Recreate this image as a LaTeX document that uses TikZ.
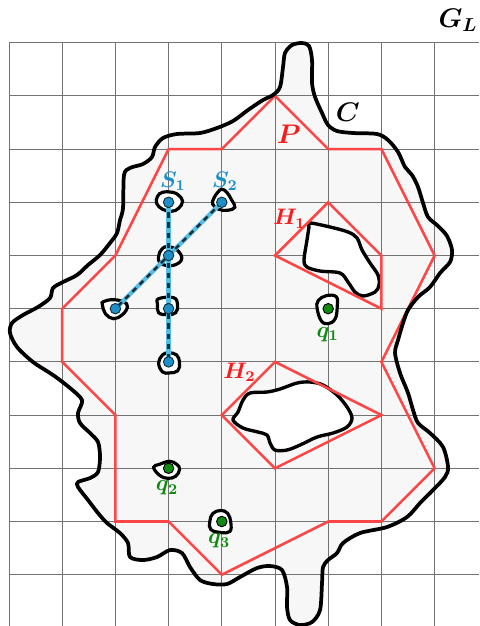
\documentclass[tikz,border=0pt]{standalone}
\usepackage{amsmath,amssymb}
\usepackage{bm}
\usetikzlibrary{positioning,calc}
\usepackage{xcolor}
\definecolor{sblue}{RGB}{27,143,198}
\definecolor{slight}{RGB}{85,188,228}
\definecolor{sdark}{RGB}{22,48,62}
\definecolor{qgreen}{RGB}{14,138,14}
\definecolor{pred}{RGB}{255,70,70}
\definecolor{hred}{RGB}{250,28,28}
\definecolor{regiongray}{RGB}{247,247,247}

% traced shapes are given in pixel offsets
\newcommand{\pointblob}[2]{%
  \begin{scope}[shift={(#1)}, x=0.018797cm, y=-0.018797cm]
    \draw[blob] plot[smooth cycle, tension=0.7] coordinates {#2};
  \end{scope}}

\def\regionoutline{plot[smooth cycle, tension=0.5] coordinates {
  (123,208) (124,175) (130,168) (143,164) (152,157) (155,147) (163,138) (177,134)
  (200,133) (217,128) (233,121) (248,110) (263,100) (273,95) (280,87) (283,67)
  (285,53) (292,45) (302,43) (309,46) (312,60) (312,83) (315,97) (322,113)
  (328,125) (337,131) (353,133) (377,134) (388,140) (398,152) (405,167) (412,175)
  (418,187) (423,203) (428,217) (438,226) (447,236) (452,250) (450,262) (440,273)
  (430,287) (418,297) (408,310) (403,323) (398,340) (395,353) (400,373) (408,393)
  (413,410) (418,423) (430,433) (443,447) (448,467) (445,477) (433,490) (420,503)
  (407,517) (387,527) (360,533) (343,543) (337,553) (328,560) (323,567) (322,583)
  (320,610) (312,622) (300,625) (290,620) (287,607) (287,587) (282,570) (270,566)
  (257,568) (240,577) (227,584) (213,584) (200,580) (190,567) (182,553) (170,550)
  (157,557) (143,560) (130,557) (128,543) (120,533) (107,523) (98,513) (88,500)
  (78,487) (78,482) (90,478) (98,472) (100,457) (98,442) (90,433) (80,423)
  (78,413) (82,400) (70,388) (53,375) (33,362) (17,347) (10,333) (12,323)
  (23,315) (38,307) (50,298) (53,288) (63,282) (77,275) (88,265) (100,255)
  (110,243) (117,233) (120,220)}}

\begin{document}
\begin{tikzpicture}[
    px/.style={x=0.018797cm, y=-0.018797cm, shift={(-9,-42.7)}},
    gridline/.style={draw=black!55, line width=0.5pt},
    region/.style={draw=black, line width=2pt, line join=round},
    hole/.style={fill=white, draw=black, line width=1.8pt},
    blob/.style={fill=white, draw=black, line width=1.7pt},
    poly/.style={draw=pred, line width=1.35pt, line join=miter},
    linkbase/.style={draw=slight, line width=2.3pt},
    linkdash/.style={draw=sdark, line width=1.4pt, dash pattern=on 2.8pt off 2.6pt},
    sdot/.style={circle, fill=sblue, draw=sdark, line width=0.5pt, inner sep=0pt, minimum size=5.6pt},
    qdot/.style={circle, fill=qgreen, draw=black, line width=0.5pt, inner sep=0pt, minimum size=5.6pt},
    slabel/.style={font=\large, text=sblue},
    qlabel/.style={font=\large, text=qgreen},
    hlabel/.style={font=\large, text=hred}
]
\useasboundingbox (-0.1692,0.8026) rectangle (8.8346,-10.9643);

% shaded region
\begin{scope}[px]
  \fill[regiongray] \regionoutline;
\end{scope}

% grid
\foreach \i in {0,...,8}
  \draw[gridline] (\i,0) -- (\i,-10.9643);
\foreach \j in {0,...,10}
  \draw[gridline] (0,-\j) -- (8.8346,-\j);

% holes
\begin{scope}[px]
  \draw[hole] plot[smooth cycle, tension=0.55] coordinates {
    (310,223) (330,227) (348,232) (357,238) (362,250) (370,263) (378,275) (379,285)
    (375,292) (363,296) (355,292) (348,282) (340,273) (320,271) (307,267) (304,260)
    (307,240) (309,227)};
  \draw[hole] plot[smooth cycle, tension=0.55] coordinates {
    (250,393) (267,392) (280,389) (297,383) (310,382) (323,385) (337,395) (347,407)
    (352,418) (347,427) (333,433) (317,437) (300,445) (287,450) (275,450) (270,443)
    (267,435) (258,432) (243,428) (233,420) (238,412) (243,400)};
\end{scope}

% points
\coordinate (s1) at (3,-3);
\coordinate (s2) at (4,-3);
\coordinate (s3) at (3,-4);
\coordinate (s4) at (2,-5);
\coordinate (s5) at (3,-5);
\coordinate (s6) at (3,-6);
\coordinate (q1) at (6,-5);
\coordinate (q2) at (3,-8);
\coordinate (q3) at (4,-9);

\pointblob{s1}{(-11,-6) (-6,-10) (4,-10) (10,-7) (14,-1) (10,6) (3,9) (-6,7) (-12,1)}
\pointblob{s2}{(0,-13) (5,-10) (10,-2) (13,5) (6,8) (-3,7) (-9,2) (-8,-4) (-4,-10)}
\pointblob{s3}{(-1,-9) (9,-5) (13,4) (4,10) (-8,8) (-10,1) (-7,-6)}
\pointblob{s4}{(-12,-7) (-3,-9) (8,-7) (12,-2) (7,6) (-2,10) (-10,5) (-13,-4)}
\pointblob{s5}{(-10,-10) (5,-11) (9,-4) (7,4) (-1,6) (-10,4) (-11,-4)}
\pointblob{s6}{(0,-9) (8,-7) (11,1) (9,9) (1,11) (-6,10) (-10,1) (-6,-7)}
\pointblob{q1}{(-10,-8) (-2,-13) (8,-12) (9,-2) (7,10) (0,15) (-7,12) (-11,0)}
\pointblob{q2}{(-15,-1) (-9,-4) (1,-7) (8,-4) (11,1) (7,8) (-1,10) (-9,7)}
\pointblob{q3}{(-1,-11) (6,-8) (9,1) (8,10) (-1,11) (-11,8) (-12,0) (-9,-8)}

% polygon P and hole hulls
\draw[poly] (3,-2) -- (4,-2) -- (5,-1) -- (6,-2) -- (7,-2) -- (8,-4) -- (7,-6) -- (8,-8)
  -- (7,-9) -- (6,-9) -- (4,-10) -- (3,-9) -- (2,-9) -- (2,-7) -- (1,-6) -- (1,-5)
  -- (2,-4) -- cycle;
\draw[poly] (6,-3) -- (7,-4) -- (7,-5) -- (5,-4) -- cycle;
\draw[poly] (5,-6) -- (7,-7) -- (5,-8) -- (4,-7) -- cycle;

% links between sites
\draw[linkbase] (s1) -- (s3) -- (s5) -- (s6);
\draw[linkbase] (s2) -- (s3) -- (s4);
\draw[linkdash] (s1) -- (s3) -- (s5) -- (s6);
\draw[linkdash] (s2) -- (s3) -- (s4);

\foreach \p in {s1,s2,s3,s4,s5,s6}
  \node[sdot] (\p dot) at (\p) {};
\foreach \p in {q1,q2,q3}
  \node[qdot] (\p dot) at (\p) {};

% outline C
\begin{scope}[px]
  \draw[region] \regionoutline;
\end{scope}

% labels
\node[font=\Large] (glabel) at (8.44,0.42) {$\bm{G_L}$};
\node[font=\Large] (clabel) at (6.37,-1.30) {$\bm{C}$};
\node[font=\Large, text=hred] (plabel) at (5.26,-1.73) {$\bm{P}$};
\node[hlabel] (h1label) at (5.27,-3.31) {$\bm{H_1}$};
\node[hlabel] (h2label) at (4.33,-6.20) {$\bm{H_2}$};
\node[slabel] (s1label) at (3.08,-2.60) {$\bm{S_1}$};
\node[slabel] (s2label) at (4.06,-2.60) {$\bm{S_2}$};
\node[qlabel] (q1label) at (5.99,-5.48) {$\bm{q_1}$};
\node[qlabel] (q2label) at (2.97,-8.37) {$\bm{q_2}$};
\node[qlabel] (q3label) at (3.95,-9.37) {$\bm{q_3}$};
\end{tikzpicture}
\end{document}
